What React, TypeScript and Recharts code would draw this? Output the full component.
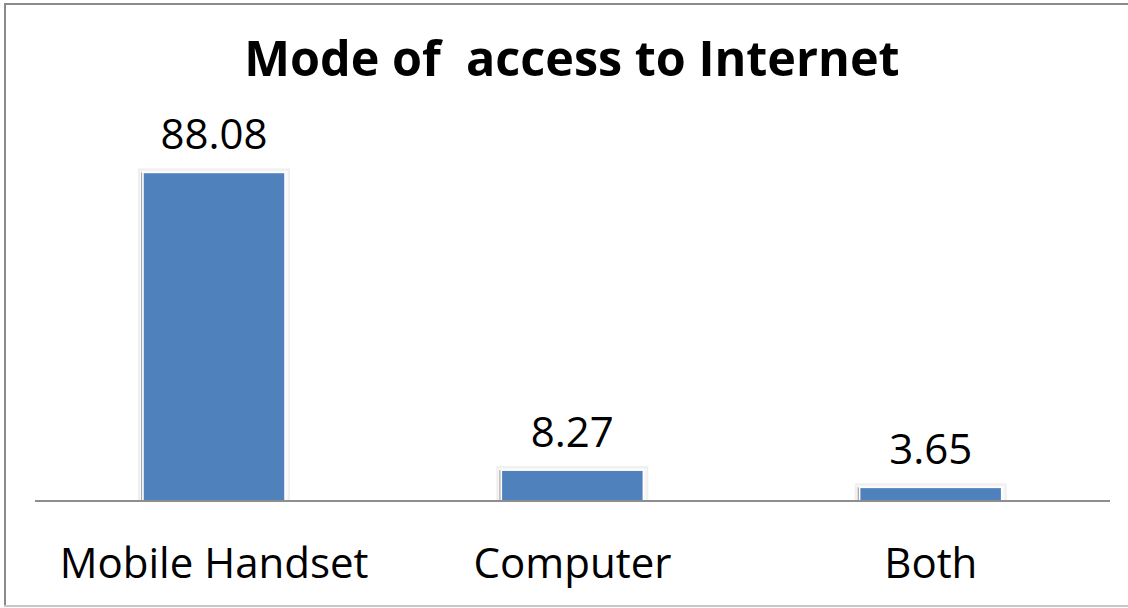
import React from "react";
import { BarChart, Bar, XAxis, YAxis, LabelList } from "recharts";

const categories = ["Mobile Handset", "Computer", "Both"];
const values = [88.08, 8.27, 3.65];
const title = "Mode of\u00a0\u00a0access to Internet";

const data = categories.map((name, i) => ({ name, value: values[i] }));

const FONT = "'Open Sans', 'Noto Sans', sans-serif";

const BarShape = (props: any) => {
  const { x, y, width, height } = props;
  if (!width || height <= 0) return null;
  return (
    <g>
      <rect x={x - 5} y={y - 4} width={width + 10} height={height + 4} fill="#efefef" />
      <rect x={x - 3} y={y - 2} width={width + 6} height={height + 2} fill="#f8f8f8" />
      <rect x={x - 2} y={y} width={1.5} height={height} fill="#a8a8a8" />
      <rect x={x} y={y} width={width} height={height} fill="#4f81bd" stroke="#ffffff" strokeWidth={1.5} />
    </g>
  );
};

const CatTick = (props: any) => {
  const { x, y, payload } = props;
  return (
    <text x={x} y={y + 77} textAnchor="middle" fontFamily={FONT} fontSize={42} fill="#000">
      {payload.value}
    </text>
  );
};

export default function App() {
  return (
    <div style={{ position: "fixed", left: 0, top: 0, width: 1128, height: 608, background: "#fff", overflow: "hidden" }}>
      <style>{"html,body{margin:0;overflow:hidden;}"}</style>
      <div style={{ position: "absolute", left: 0, top: 0 }}>
        <BarChart width={1128} height={608} data={data} margin={{ top: 128, right: 18, bottom: 0, left: 35 }}>
          <YAxis hide domain={[0, 100]} />
          <XAxis
            dataKey="name"
            height={107}
            axisLine={{ stroke: "#8e8e8e", strokeWidth: 2 }}
            tickLine={false}
            tickSize={0}
            tickMargin={0}
            interval={0}
            tick={<CatTick />}
          />
          <Bar dataKey="value" barSize={142} isAnimationActive={false} shape={<BarShape />}>
            <LabelList dataKey="value" position="top" offset={23} fontFamily={FONT} fontSize={42} fill="#000" />
          </Bar>
        </BarChart>
      </div>
      <svg width={1128} height={608} style={{ position: "absolute", left: 0, top: 0, pointerEvents: "none" }}>
        <line x1={5} y1={3} x2={5} y2={607} stroke="#8a8a8a" strokeWidth={2} />
        <line x1={4} y1={4} x2={1128} y2={4} stroke="#8a8a8a" strokeWidth={2} />
        <line x1={4} y1={606} x2={1128} y2={606} stroke="#c8c8c8" strokeWidth={2} />
        <text x={572} y={76} textAnchor="middle" fontFamily={FONT} fontWeight={700} fontSize={48.5} fill="#000">
          {title}
        </text>
      </svg>
    </div>
  );
}
